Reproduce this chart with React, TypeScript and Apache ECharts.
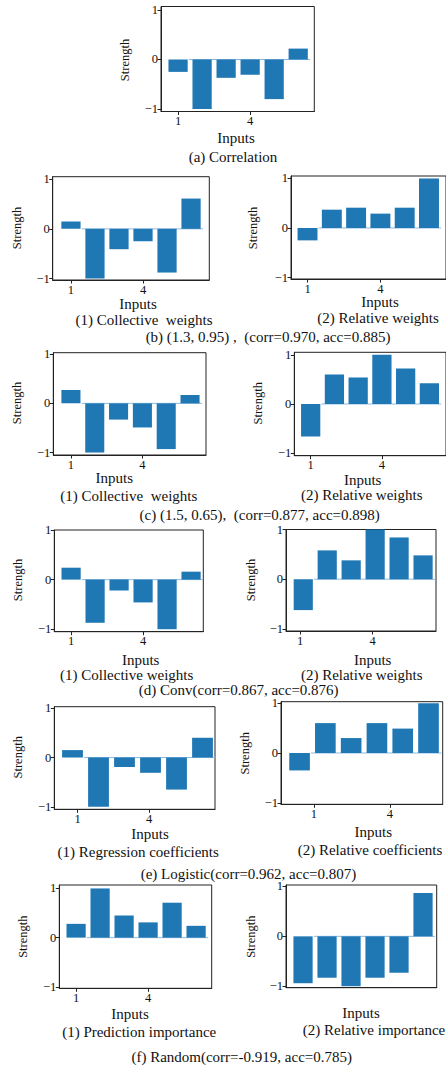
import React, { useEffect, useRef } from "react";
import * as echarts from "echarts";

// ---- data ----
const INPUTS = [1, 2, 3, 4, 5, 6];
const X_TICKS = [1, 4];
const X_TICK_LABELS = ["1", "4"];
const Y_TICKS = [-1, 0, 1];
const Y_TICK_LABELS = ["\u22121", "0", "1"];
const ZERO_LINE_X = [1.45, 6.5];

const corrVals = [-0.25, -1.0, -0.37, -0.31, -0.8, 0.22];
const b1Vals = [0.15, -1.0, -0.41, -0.25, -0.88, 0.61];
const b2Vals = [-0.25, 0.37, 0.41, 0.29, 0.41, 1.0];
const c1Vals = [0.27, -1.0, -0.33, -0.49, -0.93, 0.17];
const c2Vals = [-0.66, 0.6, 0.54, 1.0, 0.72, 0.42];
const d1Vals = [0.24, -0.87, -0.22, -0.46, -1.0, 0.16];
const d2Vals = [-0.62, 0.58, 0.38, 1.0, 0.84, 0.48];
const e1Vals = [0.15, -1.0, -0.19, -0.31, -0.65, 0.4];
const e2Vals = [-0.35, 0.6, 0.3, 0.6, 0.49, 1.0];
const f1Vals = [0.28, 1.0, 0.45, 0.31, 0.71, 0.24];
const f2Vals = [-0.94, -0.83, -1.0, -0.83, -0.73, 0.87];

// tick positions that are slightly shifted in the reference
const e2Ticks = [1.55, 4.5];
const e1Ticks = [1.2, 3.95];
const d2Ticks = [0.87, 3.9];

const CAPTIONS = {
  a: "(a) Correlation",
  b: "(b) (1.3, 0.95) ,  (corr=0.970, acc=0.885)",
  c: "(c) (1.5, 0.65),  (corr=0.877, acc=0.898)",
  d: "(d) Conv(corr=0.867, acc=0.876)",
  e: "(e) Logistic(corr=0.962, acc=0.807)",
  f: "(f) Random(corr=-0.919, acc=0.785)",
};

// ---- layout ----
type Panel = {
  vals: number[];
  box: [number, number, number, number]; // left, top, right, bottom
  x: [number, number];
  y: [number, number];
  ticks: number[] | null;
};

const panels: Panel[] = [
  { vals: corrVals, box: [161, 6.5, 314.3, 111.5], x: [0.29, 6.67], y: [-1.05, 1.07], ticks: X_TICKS },
  { vals: b1Vals, box: [52.7, 176.7, 209.3, 280], x: [0.24, 6.76], y: [-1.03, 1.05], ticks: X_TICKS },
  { vals: b2Vals, box: [291, 176, 450, 279], x: [0.32, 6.7], y: [-1.03, 1.05], ticks: X_TICKS },
  { vals: c1Vals, box: [53.3, 352.7, 206, 455], x: [0.26, 6.67], y: [-1.05, 1.03], ticks: X_TICKS },
  { vals: c2Vals, box: [294.3, 352.3, 448, 455.7], x: [0.31, 6.7], y: [-1.05, 1.05], ticks: X_TICKS },
  { vals: d1Vals, box: [54.3, 530, 203.3, 631.7], x: [0.3, 6.51], y: [-1.05, 1.0], ticks: X_TICKS },
  { vals: d2Vals, box: [286, 529.5, 436, 631], x: [0.28, 6.54], y: [-1.04, 1.0], ticks: d2Ticks },
  { vals: e1Vals, box: [54.3, 706.7, 215, 809.3], x: [0.3, 6.48], y: [-1.05, 1.03], ticks: e1Ticks },
  { vals: e2Vals, box: [281, 701.7, 442.7, 804.3], x: [0.28, 6.55], y: [-1.03, 1.03], ticks: e2Ticks },
  { vals: f1Vals, box: [59.3, 885, 211.7, 988.3], x: [0.3, 6.65], y: [-1.03, 1.07], ticks: X_TICKS },
  { vals: f2Vals, box: [286, 885, 436.7, 987.7], x: [0.29, 6.57], y: [-1.03, 1.03], ticks: null },
];

type Txt = { t: string; x: number; y: number; s: number; r?: boolean };
const texts: Txt[] = [
  { t: "Strength", x: 125, y: 60, s: 12.5, r: true },
  { t: "Inputs", x: 236, y: 138, s: 15 },
  { t: CAPTIONS.a, x: 233, y: 157, s: 15 },

  { t: "Strength", x: 17.3, y: 228, s: 12.5, r: true },
  { t: "Inputs", x: 138, y: 304.3, s: 15 },
  { t: "(1) Collective  weights", x: 144, y: 320, s: 15 },
  { t: "Strength", x: 253.3, y: 228, s: 12.5, r: true },
  { t: "Inputs", x: 380, y: 302.3, s: 15 },
  { t: "(2) Relative weights", x: 378, y: 318.3, s: 15 },
  { t: CAPTIONS.b, x: 268, y: 337, s: 15 },

  { t: "Strength", x: 17.3, y: 403, s: 12.5, r: true },
  { t: "Inputs", x: 114.3, y: 478.3, s: 15 },
  { t: "(1) Collective  weights", x: 128.8, y: 495.5, s: 15 },
  { t: "Strength", x: 258.3, y: 403.3, s: 12.5, r: true },
  { t: "Inputs", x: 362.7, y: 479.5, s: 15 },
  { t: "(2) Relative weights", x: 361.7, y: 494.5, s: 15 },
  { t: CAPTIONS.c, x: 259.7, y: 514.8, s: 15 },

  { t: "Strength", x: 18.3, y: 580, s: 12.5, r: true },
  { t: "Inputs", x: 140.7, y: 660, s: 15 },
  { t: "(1) Collective weights", x: 126.7, y: 675, s: 15 },
  { t: "Strength", x: 250.7, y: 580, s: 12.5, r: true },
  { t: "Inputs", x: 372.7, y: 659.5, s: 15 },
  { t: "(2) Relative weights", x: 361.7, y: 675, s: 15 },
  { t: CAPTIONS.d, x: 238.7, y: 690.2, s: 15 },

  { t: "Strength", x: 18.3, y: 757.3, s: 12.5, r: true },
  { t: "Inputs", x: 150, y: 834.3, s: 15 },
  { t: "(1) Regression coefficients", x: 138.2, y: 851.7, s: 15 },
  { t: "Strength", x: 245, y: 753.3, s: 12.5, r: true },
  { t: "Inputs", x: 373.3, y: 831.7, s: 15 },
  { t: "(2) Relative coefficients", x: 370, y: 850, s: 15 },
  { t: CAPTIONS.e, x: 248.5, y: 873.5, s: 15 },

  { t: "Strength", x: 22.7, y: 936.7, s: 12.5, r: true },
  { t: "Inputs", x: 130, y: 1014, s: 15 },
  { t: "(1) Prediction importance", x: 139.2, y: 1031.7, s: 15 },
  { t: "Strength", x: 250.7, y: 936.7, s: 12.5, r: true },
  { t: "Inputs", x: 361, y: 1012.7, s: 15 },
  { t: "(2) Relative importance", x: 374, y: 1030, s: 15 },
  { t: CAPTIONS.f, x: 241.7, y: 1056.7, s: 15 },
];

const FONT = "'Liberation Serif', 'Times New Roman', serif";
const INK = "#111";
const AXIS = "#222";
const BAR = "#1f77b4";
const ZERO = "#8dbadf";

function nearestIndex(arr: number[], v: number) {
  let best = 0;
  for (let i = 1; i < arr.length; i++) {
    if (Math.abs(arr[i] - v) < Math.abs(arr[best] - v)) best = i;
  }
  return best;
}

function buildOption() {
  const grid: any[] = [];
  const xAxis: any[] = [];
  const yAxis: any[] = [];
  const series: any[] = [];

  panels.forEach((p, i) => {
    const [l, t, r, b] = p.box;
    const w = r - l;
    const h = b - t;
    const ticks = p.ticks || [];
    grid.push({
      left: l,
      top: t,
      width: w,
      height: h,
      show: true,
      borderColor: AXIS,
      borderWidth: 1,
      backgroundColor: "transparent",
      containLabel: false,
    });
    xAxis.push({
      type: "value",
      gridIndex: i,
      min: p.x[0],
      max: p.x[1],
      axisLine: { show: true, onZero: false, lineStyle: { color: AXIS, width: 1 } },
      axisTick: {
        show: !!p.ticks,
        length: 3.5,
        lineStyle: { color: AXIS, width: 1 },
        customValues: ticks,
      },
      axisLabel: {
        show: !!p.ticks,
        customValues: ticks,
        formatter: (v: number) => X_TICK_LABELS[nearestIndex(ticks, v)],
        margin: 3,
        fontFamily: FONT,
        fontSize: 12.5,
        color: INK,
      },
      splitLine: { show: false },
    });
    yAxis.push({
      type: "value",
      gridIndex: i,
      min: p.y[0],
      max: p.y[1],
      axisLine: { show: true, onZero: false, lineStyle: { color: AXIS, width: 1 } },
      axisTick: {
        show: true,
        length: 3.5,
        lineStyle: { color: AXIS, width: 1 },
        customValues: Y_TICKS,
      },
      axisLabel: {
        customValues: Y_TICKS,
        formatter: (v: number) => Y_TICK_LABELS[nearestIndex(Y_TICKS, v)],
        margin: 3,
        fontFamily: FONT,
        fontSize: 12.5,
        color: INK,
      },
      splitLine: { show: false },
    });
    const unit = w / (p.x[1] - p.x[0]);
    series.push({
      type: "line",
      xAxisIndex: i,
      yAxisIndex: i,
      data: ZERO_LINE_X.map((x) => [x, 0]),
      symbol: "none",
      silent: true,
      lineStyle: { color: ZERO, width: 1 },
      z: 1,
    });
    series.push({
      type: "bar",
      xAxisIndex: i,
      yAxisIndex: i,
      data: p.vals.map((v, k) => [INPUTS[k], v]),
      barWidth: 0.8 * unit,
      itemStyle: { color: BAR },
      silent: true,
      z: 2,
    });
  });

  const graphic = texts.map((tx) => ({
    type: "text",
    x: tx.x,
    y: tx.y,
    rotation: tx.r ? Math.PI / 2 : 0,
    style: {
      text: tx.t,
      fontFamily: FONT,
      fontSize: tx.s,
      fill: INK,
      align: "center",
      verticalAlign: "middle",
    },
    silent: true,
  }));

  return { animation: false, grid, xAxis, yAxis, series, graphic };
}

export default function App() {
  const ref = useRef<HTMLDivElement>(null);
  useEffect(() => {
    if (!ref.current) return;
    const chart = echarts.init(ref.current, null, { renderer: "svg" });
    chart.setOption(buildOption() as any);
    return () => chart.dispose();
  }, []);
  return (
    <div
      ref={ref}
      style={{ position: "absolute", left: 0, top: 0, width: 446, height: 1067, background: "#fff" }}
    />
  );
}
